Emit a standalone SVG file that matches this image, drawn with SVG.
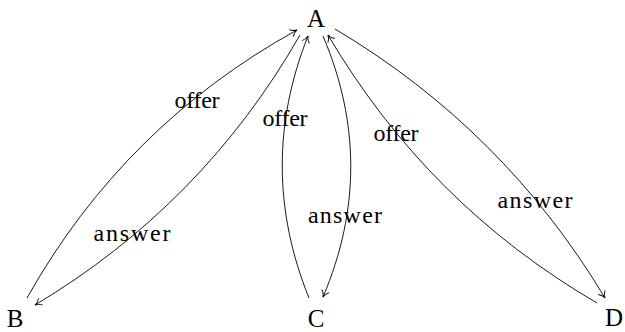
<svg xmlns="http://www.w3.org/2000/svg" width="625" height="332" viewBox="0 0 625 332">
<defs>
<style>
.node{font-family:"Liberation Serif","DejaVu Serif",serif;font-size:25px;fill:#000;text-anchor:middle}
.lbl{font-family:"Liberation Serif","DejaVu Serif",serif;font-size:24px;fill:#000;text-anchor:middle}
.edge{fill:none;stroke:#000;stroke-width:0.9;marker-end:url(#to)}
</style>
<marker id="to" markerUnits="userSpaceOnUse" markerWidth="20" markerHeight="20" refX="0" refY="0" orient="auto" overflow="visible">
<path d="M-6.5,-4 C-5,-2 -2,-0.5 0,0 C-2,0.5 -5,2 -6.5,4" fill="none" stroke="#000" stroke-width="0.9"/>
</marker>
</defs>
<rect width="625" height="332" fill="#fff"/>
<g id="connectors">
<path class="edge" d="M27,298 C91.6,183.1 181.6,93.7 297,30"/>
<path class="edge" d="M300,35 C235.3,148.1 146.9,238.1 35,305"/>
<path class="edge" d="M309,298 C273.7,210.7 273.3,123.3 308,36"/>
<path class="edge" d="M323,36 C360,123 360,210 323,297"/>
<path class="edge" d="M597,303 C484,237.1 394.4,147.7 328,35"/>
<path class="edge" d="M335,29 C447.6,96 537.6,185.6 605,298"/>
</g>
<g id="labels">
<text class="lbl" x="197" y="108" textLength="45" lengthAdjust="spacing">offer</text>
<text class="lbl" x="132" y="241" textLength="77" lengthAdjust="spacing">answer</text>
<text class="lbl" x="285" y="126" textLength="45" lengthAdjust="spacing">offer</text>
<text class="lbl" x="345" y="223" textLength="74" lengthAdjust="spacing">answer</text>
<text class="lbl" x="396" y="141" textLength="45" lengthAdjust="spacing">offer</text>
<text class="lbl" x="535" y="208" textLength="75" lengthAdjust="spacing">answer</text>
</g>
<g id="A"><text class="node" x="316" y="27">A</text></g>
<g id="B"><text class="node" x="15" y="327">B</text></g>
<g id="C"><text class="node" x="316" y="327">C</text></g>
<g id="D"><text class="node" x="614" y="326">D</text></g>
</svg>
